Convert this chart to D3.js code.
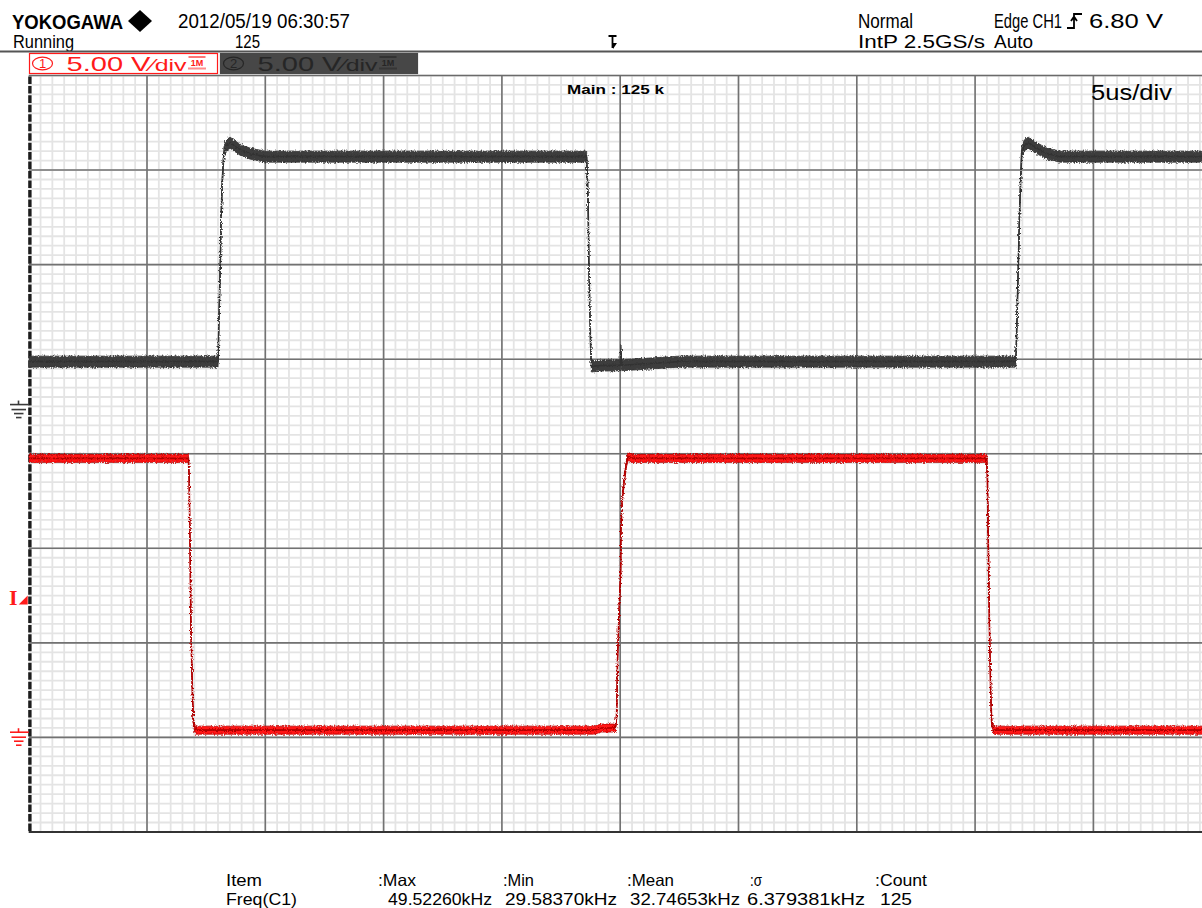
<!DOCTYPE html>
<html>
<head>
<meta charset="utf-8">
<script src="https://cdn.jsdelivr.net/npm/d3@7"></script>
<style>
  html, body { margin: 0; padding: 0; background: #fff; overflow: hidden; }
  svg { display: block; }
</style>
</head>
<body>
<svg id="scope" width="1202" height="908"></svg>
<script>
// ---- CH1 record (time in microseconds, level in volts) ----
const ch1Time  = [0, 6.75, 6.78, 6.82, 6.86, 6.92, 6.96, 7.05, 23.9, 24.2, 24.78, 24.82, 24.85, 24.89, 24.95, 25.02, 25.03, 25.09, 25.17, 25.27, 25.34, 25.5, 40.49, 40.52, 40.56, 40.61, 40.66, 40.70, 40.79, 50];
const ch1Volts = [14.48, 14.48, 13.53, 9.83, 5.29, 2.11, 0.53, 0.11, 0.11, 0.22, 0.22, 0.42, 0.95, 3.96, 6.24, 8.51, 10.73, 12.32, 13.37, 14.27, 14.59, 14.48, 14.48, 13.53, 9.83, 5.29, 2.11, 0.53, 0.11, 0.11];

// ---- CH2 record ----
const ch2Time  = [0, 8.00, 8.01, 8.04, 8.10, 8.13, 8.18, 8.25, 8.34, 8.51, 8.93, 9.35, 9.99, 23.58, 23.64, 23.68, 23.75, 23.79, 24.14, 25.00, 25.03, 25.06, 26.26, 27.5, 41.72, 41.73, 41.77, 41.83, 41.87, 41.92, 41.97, 42.07, 42.24, 42.54, 43.03, 43.59, 50];
const ch2Volts = [2.27, 2.27, 2.54, 4.49, 7.51, 9.78, 11.73, 13.32, 13.69, 13.85, 13.48, 13.27, 13.11, 13.11, 10.99, 7.14, 3.07, 2.01, 2.06, 2.08, 2.9, 2.08, 2.17, 2.27, 2.27, 2.54, 4.49, 7.51, 9.78, 11.73, 13.32, 13.69, 13.85, 13.6, 13.27, 13.11, 13.11];

// ---- measurement table ----
const statHeaders = ["Item", ":Max", ":Min", ":Mean", ":\u03c3", ":Count"];
const statValues  = ["Freq(C1)", "49.52260kHz", "29.58370kHz", "32.74653kHz", "6.379381kHz", "125"];

// ---- instrument settings ----
const timePerDivUs = 5;
const hDivs = 10, vDivs = 8;
const ch1VoltsPerDiv = 5, ch2VoltsPerDiv = 5;
const ch1GroundDiv = -2.945, ch2GroundDiv = 0.52;
const triggerLevelV = 6.80;

// ---------------------------------------------------------------
const W = 1202, H = 908;
const svg = d3.select("#scope");
const FONT = "'Liberation Sans',Arial,sans-serif";

const plot = { left: 28.7, top: 75.5, divW: 118.3, divH: 94.56 };
const x = d3.scaleLinear()
  .domain([0, hDivs * timePerDivUs])
  .range([plot.left, plot.left + hDivs * plot.divW]);
const yDiv = d3.scaleLinear()
  .domain([-vDivs / 2, vDivs / 2])
  .range([plot.top + vDivs * plot.divH, plot.top]);
const y1 = v => yDiv(v / ch1VoltsPerDiv + ch1GroundDiv);
const y2 = v => yDiv(v / ch2VoltsPerDiv + ch2GroundDiv);
const plotBottom = yDiv(-vDivs / 2);

const defs = svg.append("defs");
defs.append("clipPath").attr("id", "plotClip")
  .append("rect").attr("x", plot.left).attr("y", plot.top - 1)
  .attr("width", W - plot.left).attr("height", plotBottom - plot.top + 2);
const rough = defs.append("filter").attr("id", "rough")
  .attr("x", "-2%").attr("y", "-10%").attr("width", "104%").attr("height", "120%");
rough.append("feTurbulence").attr("type", "fractalNoise")
  .attr("baseFrequency", "0.9 0.6").attr("numOctaves", 2).attr("seed", 7).attr("result", "n");
rough.append("feDisplacementMap").attr("in", "SourceGraphic").attr("in2", "n")
  .attr("scale", 4).attr("xChannelSelector", "R").attr("yChannelSelector", "G");

// ---------------- graticule ----------------
const grid = svg.append("g").attr("clip-path", "url(#plotClip)");
const minorT = d3.range(0, hDivs * timePerDivUs + 1e-6, timePerDivUs / 10);
const minorD = d3.range(-vDivs / 2, vDivs / 2 + 1e-6, 0.1);
grid.selectAll(".mx").data(minorT).join("line")
  .attr("x1", d => x(d)).attr("x2", d => x(d))
  .attr("y1", plot.top).attr("y2", plotBottom)
  .attr("stroke", "#e4e4e4").attr("stroke-width", 1.8);
grid.selectAll(".my").data(minorD).join("line")
  .attr("x1", plot.left).attr("x2", W)
  .attr("y1", d => yDiv(d)).attr("y2", d => yDiv(d))
  .attr("stroke", "#e4e4e4").attr("stroke-width", 1.8);

const majorT = d3.range(1, hDivs + 1).map(i => i * timePerDivUs);
const majorD = d3.range(-vDivs / 2 + 1, vDivs / 2);
grid.selectAll(".Mx").data(majorT).join("line")
  .attr("x1", d => x(d)).attr("x2", d => x(d))
  .attr("y1", plot.top).attr("y2", plotBottom)
  .attr("stroke", "#727272").attr("stroke-width", 1.6);
grid.selectAll(".My").data(majorD).join("line")
  .attr("x1", plot.left).attr("x2", W)
  .attr("y1", d => yDiv(d)).attr("y2", d => yDiv(d))
  .attr("stroke", "#727272").attr("stroke-width", 1.6);

// frame: top and bottom edges, dashed left edge
svg.append("line").attr("x1", plot.left).attr("x2", W)
  .attr("y1", plot.top).attr("y2", plot.top)
  .attr("stroke", "#6a6a6a").attr("stroke-width", 1.6);
svg.append("line").attr("x1", plot.left).attr("x2", W)
  .attr("y1", plotBottom).attr("y2", plotBottom)
  .attr("stroke", "#333").attr("stroke-width", 2.2);
const minorGap = 1.9;
svg.append("line").attr("x1", plot.left + 1.2).attr("x2", plot.left + 1.2)
  .attr("y1", plot.top).attr("y2", plotBottom)
  .attr("stroke", "#1c1c1c").attr("stroke-width", 3.4)
  .attr("stroke-dasharray", `${plot.divH / 10 - minorGap} ${minorGap}`)
  .attr("stroke-dashoffset", -minorGap / 2);

// ---------------- traces ----------------
const traces = svg.append("g").attr("clip-path", "url(#plotClip)");
function drawTrace(times, volts, ys, fill, edge, half) {
  const pts = times.map((t, i) => [t, volts[i]]);
  const band = d3.area()
    .x(d => x(d[0]))
    .y0(d => ys(d[1]) + half)
    .y1(d => ys(d[1]) - half);
  const line = d3.line().x(d => x(d[0])).y(d => ys(d[1]));
  const g = traces.append("g").attr("filter", "url(#rough)");
  g.append("path").attr("d", band(pts)).attr("fill", fill)
    .attr("stroke", edge).attr("stroke-width", 0.8);
  g.append("path").attr("d", line(pts)).attr("fill", "none")
    .attr("stroke", edge).attr("stroke-width", 1.6);
}
drawTrace(ch2Time, ch2Volts, y2, "#3d3d3d", "#333333", 5.5);
drawTrace(ch1Time, ch1Volts, y1, "#ff1414", "#b00000", 4);

// ---------------- left-edge markers ----------------
function groundMark(yy, color) {
  const g = svg.append("g").attr("stroke", color).attr("stroke-width", 1.6).attr("fill", "none");
  g.append("line").attr("x1", 10).attr("x2", plot.left).attr("y1", yy).attr("y2", yy);
  g.append("line").attr("x1", 18.5).attr("x2", 18.5).attr("y1", yy - 4).attr("y2", yy);
  g.append("line").attr("x1", 11.5).attr("x2", 26).attr("y1", yy + 5).attr("y2", yy + 5);
  g.append("line").attr("x1", 14).attr("x2", 23.5).attr("y1", yy + 9).attr("y2", yy + 9);
  g.append("line").attr("x1", 16).attr("x2", 21.5).attr("y1", yy + 13).attr("y2", yy + 13);
}
groundMark(y2(0), "#3a3a3a");
groundMark(y1(0), "#ff1a1a");

// trigger level marker for CH1
const ty = y1(triggerLevelV);
svg.append("text").attr("x", 9).attr("y", ty + 1).attr("font-family", "'Liberation Serif',serif")
  .attr("font-size", 22).attr("font-weight", "bold").attr("fill", "#ff1a1a").text("I");
svg.append("path")
  .attr("d", `M${plot.left - 1},${ty + 1} L${plot.left - 10},${ty + 1} L${plot.left - 1},${ty - 8} Z`)
  .attr("fill", "#ff1a1a");

// ---------------- header ----------------
function txt(s, xx, yy, size, opts = {}) {
  const t = svg.append("text").attr("x", xx).attr("y", yy)
    .attr("font-family", opts.family || FONT)
    .attr("font-size", size)
    .attr("font-weight", opts.weight || "normal")
    .attr("fill", opts.fill || "#000")
    .text(s);
  if (opts.len) t.attr("textLength", opts.len).attr("lengthAdjust", "spacingAndGlyphs");
  return t;
}
txt("YOKOGAWA", 12, 28.5, 21, { weight: "bold", len: 111 });
svg.append("path").attr("d", "M140,10 L152,21 L140,32 L128,21 Z").attr("fill", "#000");
txt("2012/05/19 06:30:57", 178, 27.5, 20.5, { len: 172 });
txt("Running", 13, 48, 17.5, { len: 61 });
txt("125", 235, 48, 17.5, { len: 25 });
txt("Normal", 858, 27.5, 20.5, { len: 55 });
txt("IntP 2.5GS/s", 858, 48, 18, { len: 127 });
txt("Edge CH1", 994, 27.5, 20.5, { len: 68 });
svg.append("path").attr("d", "M1067,28 L1074,28 L1074,14 L1082,14 M1071,21 L1074,16.5 L1077,21")
  .attr("fill", "none").attr("stroke", "#000").attr("stroke-width", 1.8);
txt("6.80 V", 1089, 27.5, 20.5, { len: 74 });
txt("Auto", 994, 48, 18, { len: 39 });

// trigger position marker
svg.append("path").attr("d", "M608.5,36 L616.5,36 M612.5,36 L612.5,48")
  .attr("stroke", "#000").attr("stroke-width", 1.8).attr("fill", "none");
svg.append("path").attr("d", "M612.5,43 L617,43 L613,49 Z").attr("fill", "#000");

// separator
svg.append("line").attr("x1", 0).attr("x2", W).attr("y1", 51.5).attr("y2", 51.5)
  .attr("stroke", "#555").attr("stroke-width", 2);

// channel boxes
function channelBox(x0, w, label, vdiv, boxFill, boxStroke, color) {
  const g = svg.append("g");
  g.append("rect").attr("x", x0).attr("y", 53.5).attr("width", w).attr("height", 20)
    .attr("fill", boxFill).attr("stroke", boxStroke).attr("stroke-width", 1.2);
  g.append("ellipse").attr("cx", x0 + 13).attr("cy", 63.5).attr("rx", 10).attr("ry", 6.3)
    .attr("fill", "none").attr("stroke", color).attr("stroke-width", 1.2);
  g.append("text").attr("x", x0 + 13).attr("y", 68).attr("text-anchor", "middle")
    .attr("font-family", FONT).attr("font-size", 13).attr("fill", color).text(label);
  g.append("text").attr("x", x0 + 37).attr("y", 71).attr("font-family", FONT)
    .attr("font-size", 21).attr("fill", color)
    .attr("textLength", 84).attr("lengthAdjust", "spacingAndGlyphs")
    .text(d3.format(".2f")(vdiv) + " V");
  g.append("text").attr("x", x0 + 121).attr("y", 71).attr("font-family", FONT)
    .attr("font-size", 16).attr("fill", color)
    .attr("textLength", 36).attr("lengthAdjust", "spacingAndGlyphs")
    .text("\u2044div");
  g.append("line").attr("x1", x0 + 159).attr("x2", x0 + 176).attr("y1", 57).attr("y2", 57)
    .attr("stroke", color).attr("stroke-width", 1.2);
  g.append("text").attr("x", x0 + 167.5).attr("y", 65.5).attr("text-anchor", "middle")
    .attr("font-family", FONT).attr("font-size", 9).attr("font-weight", "bold")
    .attr("fill", color).text("1M");
  g.append("line").attr("x1", x0 + 159).attr("x2", x0 + 176).attr("y1", 68.5).attr("y2", 68.5)
    .attr("stroke", color).attr("stroke-width", 2).attr("stroke-dasharray", "1 1");
}
channelBox(29.5, 188, "1", ch1VoltsPerDiv, "#fff", "#ff1a1a", "#ff1a1a");
channelBox(220.5, 197, "2", ch2VoltsPerDiv, "#474747", "#474747", "#262626");

// in-graticule annotations
txt("Main : 125 k", 567, 94, 13, { weight: "bold", len: 97 });
txt(`${timePerDivUs}us/div`, 1091, 100, 22, { len: 81 });

// ---------------- measurement table ----------------
const colX = [226, 378, 503, 627, 750, 875];
const valDx = [0, 10, 2, 3, -3, 5];
const headLen = [36, 38, 31, 47, 12, 52];
const valLen = [71, 104, 112, 110, 118, 32];
statHeaders.forEach((s, i) => {
  txt(s, colX[i], 886, 16.5, { len: headLen[i] });
  txt(statValues[i], colX[i] + valDx[i], 905, 16.5, { len: valLen[i] });
});
</script>
</body>
</html>
